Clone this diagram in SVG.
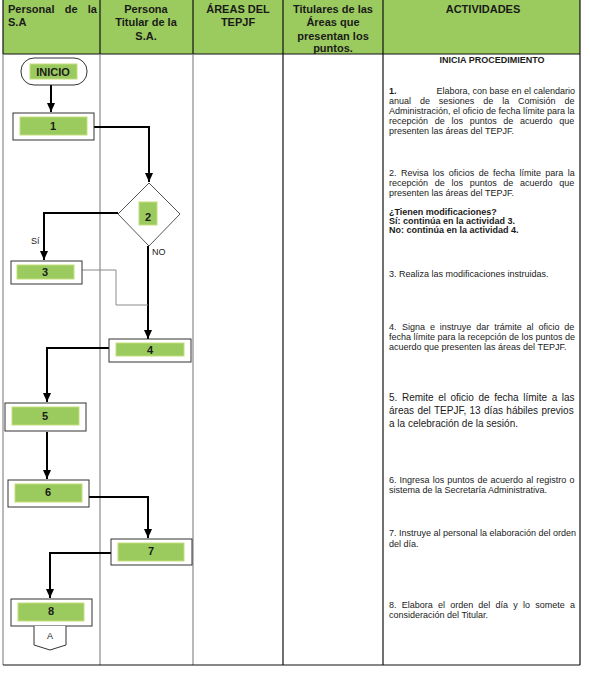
<svg xmlns="http://www.w3.org/2000/svg" width="590" height="679" viewBox="0 0 590 679">
<style>
text{font-family:"Liberation Sans",Arial,sans-serif;fill:#1a1a1a}
.h{font-size:11px;font-weight:bold;text-anchor:middle}
.hl{font-size:11px;font-weight:bold}
.t{font-size:9px}
.t5{font-size:10px}
.b{font-size:9px;font-weight:bold}
.lbl{font-size:11px;font-weight:bold;text-anchor:middle}
.box{fill:#fff;stroke:#333;stroke-width:1}
.in{fill:#9bcb5e;stroke:#c5dd7a;stroke-width:1}
.lane{stroke:#8a8a8a;stroke-width:1.2}
.laneb{stroke:#111;stroke-width:1.2}
.con{fill:none;stroke:#000;stroke-width:2}
.thin{fill:none;stroke:#8a8a8a;stroke-width:1}
</style>
<defs>
<marker id="ah" markerUnits="userSpaceOnUse" markerWidth="10" markerHeight="10" viewBox="0 0 10 10" refX="9" refY="5" orient="auto">
<path d="M0,1 L9,5 L0,9 Z" fill="#000"/>
</marker>
</defs>

<g id="table">
<rect x="3" y="0" width="577" height="54" fill="#9bcb5e"/>
<line class="laneb" x1="3" y1="54" x2="580" y2="54"/>
<line class="laneb" x1="3" y1="0" x2="3" y2="54"/>
<line class="laneb" x1="100" y1="0" x2="100" y2="54"/>
<line class="laneb" x1="193" y1="0" x2="193" y2="54"/>
<line class="laneb" x1="283" y1="0" x2="283" y2="54"/>
<line class="laneb" x1="383" y1="0" x2="383" y2="54"/>
<line class="laneb" x1="580" y1="0" x2="580" y2="54"/>
<line class="lane" x1="3" y1="54" x2="3" y2="665"/>
<line class="lane" x1="100" y1="54" x2="100" y2="665"/>
<line class="lane" x1="193" y1="54" x2="193" y2="665"/>
<line class="laneb" x1="283" y1="54" x2="283" y2="665"/>
<line class="laneb" x1="383" y1="54" x2="383" y2="665"/>
<line class="laneb" x1="580" y1="54" x2="580" y2="665"/>
<line class="laneb" x1="3" y1="665" x2="580" y2="665"/>
<text class="hl" x="8" y="13" word-spacing="7.2">Personal de la</text>
<text class="hl" x="8" y="26">S.A</text>
<text class="h" x="146" y="13">Persona</text>
<text class="h" x="146" y="26">Titular de la</text>
<text class="h" x="146" y="40">S.A.</text>
<text class="h" x="238" y="13">ÁREAS DEL</text>
<text class="h" x="238" y="26">TEPJF</text>
<text class="h" x="333" y="13">Titulares de las</text>
<text class="h" x="333" y="26">Áreas que</text>
<text class="h" x="333" y="40">presentan los</text>
<text class="h" x="333" y="52">puntos.</text>
<text class="h" x="483" y="13">ACTIVIDADES</text>
</g>

<g id="activities">
<text class="b" x="492" y="63" text-anchor="middle">INICIA PROCEDIMIENTO</text>
<text class="b" x="389" y="94">1.</text>
<text class="t" x="575" y="94" text-anchor="end">Elabora, con base en el calendario</text>
<text class="t" x="389" y="104" word-spacing="6.4">anual de sesiones de la Comisión de</text>
<text class="t" x="389" y="114">Administración, el oficio de fecha límite para la</text>
<text class="t" x="389" y="124" word-spacing="4.2">recepción de los puntos de acuerdo que</text>
<text class="t" x="389" y="134">presenten las áreas del TEPJF.</text>

<text class="t" x="389" y="176" word-spacing="1.9">2. Revisa los oficios de fecha límite para la</text>
<text class="t" x="389" y="186" word-spacing="4.2">recepción de los puntos de acuerdo que</text>
<text class="t" x="389" y="196">presenten las áreas del TEPJF.</text>
<text class="b" x="389" y="215">¿Tienen modificaciones?</text>
<text class="b" x="389" y="224">Sí: continúa en la actividad 3.</text>
<text class="b" x="389" y="233">No: continúa en la actividad 4.</text>

<text class="t" x="389" y="277">3. Realiza las modificaciones instruidas.</text>

<text class="t" x="389" y="330">4.</text>
<text class="t" x="402" y="330" word-spacing="2.4">Signa e instruye dar trámite al oficio de</text>
<text class="t" x="389" y="340">fecha límite para la recepción de los puntos de</text>
<text class="t" x="389" y="350">acuerdo que presenten las áreas del TEPJF.</text>

<text class="t5" x="389" y="401" word-spacing="1.8">5. Remite el oficio de fecha límite a las</text>
<text class="t5" x="389" y="414" word-spacing="0.6">áreas del TEPJF, 13 días hábiles previos</text>
<text class="t5" x="389" y="427">a la celebración de la sesión.</text>

<text class="t" x="389" y="483" word-spacing="0.6">6. Ingresa los puntos de acuerdo al registro o</text>
<text class="t" x="389" y="493">sistema de la Secretaría Administrativa.</text>

<text class="t" x="389" y="536">7. Instruye al personal la elaboración del orden</text>
<text class="t" x="389" y="547">del día.</text>

<text class="t" x="389" y="608" word-spacing="2.7">8. Elabora el orden del día y lo somete a</text>
<text class="t" x="389" y="618">consideración del Titular.</text>
</g>

<g id="connectors">
<path class="con" d="M51,85 V112" marker-end="url(#ah)"/>
<path class="con" d="M94,127 H149 V182" marker-end="url(#ah)"/>
<path class="con" d="M118,213 H44 V260" marker-end="url(#ah)"/>
<path class="con" d="M148,246 V339" marker-end="url(#ah)"/>
<path class="thin" d="M82,270 H116 V305 H148"/>
<path class="con" d="M109,348 H47 V402" marker-end="url(#ah)"/>
<path class="con" d="M47,432 V479" marker-end="url(#ah)"/>
<path class="con" d="M86,497 H148 V538" marker-end="url(#ah)"/>
<path class="con" d="M111,553 H50 V598" marker-end="url(#ah)"/>
<text class="t" x="31" y="244">Sí</text>
<text class="t" x="152" y="255">NO</text>
</g>

<g id="inicio">
<rect class="box" x="21" y="58" width="66" height="27" rx="13" ry="13"/>
<rect class="in" x="30" y="64" width="47" height="15"/>
<text class="lbl" x="53" y="76">INICIO</text>
</g>
<g id="n1">
<rect class="box" x="13" y="113" width="81" height="27"/>
<rect class="in" x="20" y="117" width="67" height="18"/>
<text class="lbl" x="53" y="130">1</text>
</g>
<g id="n2">
<polygon points="149,183 180,214 149,246 118,214" fill="#fff" stroke="#555" stroke-width="1"/>
<rect class="in" x="139" y="202" width="18" height="23"/>
<text class="lbl" x="148" y="221">2</text>
</g>
<g id="n3">
<rect class="box" x="11" y="261" width="71" height="23"/>
<rect class="in" x="17" y="265" width="57" height="14"/>
<text class="lbl" x="45" y="276">3</text>
</g>
<g id="n4">
<rect class="box" x="109" y="339" width="82" height="23"/>
<rect class="in" x="116" y="343" width="68" height="13"/>
<text class="lbl" x="150" y="354">4</text>
</g>
<g id="n5">
<rect class="box" x="5" y="403" width="81" height="28"/>
<rect class="in" x="12" y="407" width="67" height="18"/>
<text class="lbl" x="45" y="420">5</text>
</g>
<g id="n6">
<rect class="box" x="8" y="480" width="81" height="27"/>
<rect class="in" x="15" y="484" width="67" height="18"/>
<text class="lbl" x="48" y="496">6</text>
</g>
<g id="n7">
<rect class="box" x="111" y="539" width="81" height="26"/>
<rect class="in" x="118" y="543" width="66" height="18"/>
<text class="lbl" x="151" y="555">7</text>
</g>
<g id="n8">
<rect class="box" x="11" y="599" width="81" height="27"/>
<rect class="in" x="18" y="603" width="66" height="18"/>
<text class="lbl" x="51" y="615">8</text>
</g>
<g id="offpage">
<path d="M34,626 V645 L50,650 L66,645 V626" fill="#fff" stroke="#333" stroke-width="1"/>
<text x="50" y="639" font-size="9" text-anchor="middle" style="font-family:'Liberation Sans',Arial,sans-serif">A</text>
</g>
</svg>
